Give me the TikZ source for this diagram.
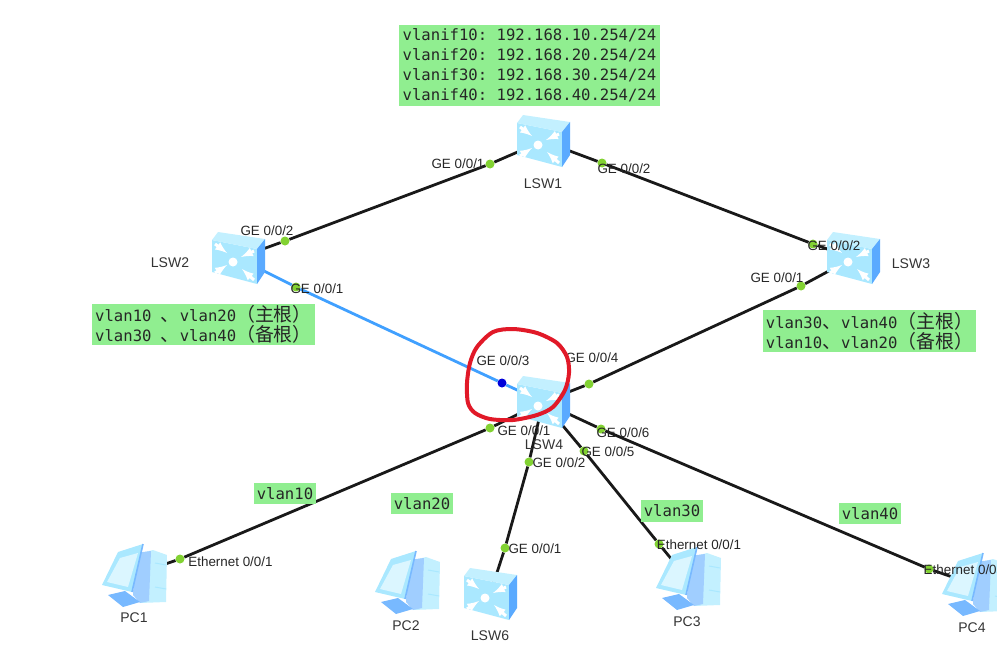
\documentclass[tikz,border=0pt]{standalone}
\usepackage{fontspec}
\setmainfont{Liberation Sans}
\setmonofont{DejaVu Sans Mono}
\newfontfamily\cjk{Noto Sans CJK SC}
\usetikzlibrary{backgrounds}
\definecolor{notegreen}{RGB}{144,238,144}
\definecolor{portgreen}{RGB}{130,210,50}
\definecolor{linkblue}{RGB}{64,160,255}
\definecolor{markred}{RGB}{225,25,40}
\definecolor{iconfront}{RGB}{170,232,255}
\definecolor{icontop}{RGB}{195,240,255}
\definecolor{iconside}{RGB}{90,170,255}
\definecolor{pcdark}{RGB}{120,185,255}
\newcommand{\zh}[1]{{\cjk\fontsize{18.9}{20}\selectfont #1}}
\tikzset{
  devnode/.style={coordinate},
  port/.style={circle,fill=portgreen,inner sep=0pt,minimum size=9pt},
  portb/.style={circle,fill=blue!85!black,inner sep=0pt,minimum size=9pt},
  plabel/.style={inner sep=0pt,text=black!85,font=\fontsize{13.4}{15}\selectfont},
  dlabel/.style={inner sep=0pt,text=black!80,font=\fontsize{14}{16}\selectfont},
  note/.style={fill=notegreen,inner sep=0pt,align=left,text=black!85,font=\ttfamily\fontsize{15.6}{20}\selectfont},
  link/.style={black!90,line width=2.8pt},
  pics/swicon/.style={code={
    \fill[iconfront] (-26,-18)--(19,-9)--(19,26)--(-26,14)--cycle;
    \fill[icontop] (-26,-18)--(-20,-26)--(27,-19)--(19,-9)--cycle;
    \fill[iconside] (19,-9)--(27,-19)--(27,14)--(19,26)--cycle;
    \draw[white,line width=3pt,->] (-23,-14)--(-11,-5);
    \draw[white,line width=3pt,->] (16,-7)--(3,-1);
    \draw[white,line width=3pt,->] (-23,15)--(-11,7);
    \draw[white,line width=3pt,->] (16,22)--(4,11);
    \fill[white] (-5,4) circle (4.5);
  }},
  pics/pcicon/.style={code={
    \fill[icontop] (12,-23)--(20,-25)--(34,-20)--(33,27)--(7,28)--cycle;
    \fill[pcdark!70!white] (2,-22)--(18,-24)--(16,26)--(7,28)--(0,20)--cycle;
    \fill[pcdark] (-25,20)--(-8,16)--(7,27)--(-10,32)--cycle;
    \fill[iconfront] (-31,10)--(-15,-23)--(10,-31)--(-1,17)--cycle;
    \fill[icontop!60!white] (-26,7)--(-13,-17)--(5,-22)--(-5,12)--cycle;
    \draw[pcdark,line width=1.6pt] (10,-31)--(-1,17);
    \draw[iconfront,line width=1pt] (22,-12)--(33,-10) (22,12)--(33,14);
  }}
}
\begin{document}
\begin{tikzpicture}[>=latex,x=1pt,y=-1pt]
\clip (0,0) rectangle (997,661);
\node[devnode] (lsw1) at (543,141) {};
\node[devnode] (lsw2) at (238,258) {};
\node[devnode] (lsw3) at (853,258) {};
\node[devnode] (lsw4) at (543,402) {};
\node[devnode] (lsw6) at (490,594) {};
\node[devnode] (pc1) at (133,575) {};
\node[devnode] (pc2) at (406,582) {};
\node[devnode] (pc3) at (687,578) {};
\node[devnode] (pc4) at (973,584) {};
\pic at (lsw1) {swicon};
\pic at (lsw2) {swicon};
\pic at (lsw3) {swicon};
\pic at (lsw4) {swicon};
\pic at (lsw6) {swicon};
\pic at (pc1) {pcicon};
\pic at (pc2) {pcicon};
\pic at (pc3) {pcicon};
\pic at (pc4) {pcicon};
\node[port] (lsw1p1) at (490,164) {};
\node[port] (lsw1p2) at (602,163) {};
\node[port] (lsw2p2) at (285,241) {};
\node[port] (lsw2p1) at (296,287) {};
\node[port] (lsw3p2) at (813,244) {};
\node[port] (lsw3p1) at (801,286) {};
\node[portb] (lsw4p3) at (502,383) {};
\node[port] (lsw4p4) at (589,384) {};
\node[port] (lsw4p1) at (490,428) {};
\node[port] (lsw4p2) at (529,462) {};
\node[port] (lsw4p5) at (584,451) {};
\node[port] (lsw4p6) at (601,429) {};
\node[port] (lsw6p1) at (505,548) {};
\node[port] (pc1p1) at (180,559) {};
\node[port] (pc3p1) at (659,544) {};
\node[port] (pc4p1) at (929,569) {};
\begin{pgfonlayer}{background}
\draw[link] (lsw1)--(lsw1p1)--(lsw2p2)--(lsw2);
\draw[link] (lsw1)--(lsw1p2)--(lsw3p2)--(lsw3);
\draw[link] (lsw3)--(lsw3p1)--(lsw4p4)--(lsw4);
\draw[link] (lsw4)--(lsw4p1)--(pc1p1)--(pc1);
\draw[link] (lsw4)--(lsw4p2)--(lsw6p1)--(lsw6);
\draw[link] (lsw4)--(lsw4p5)--(pc3p1)--(pc3);
\draw[link] (lsw4)--(lsw4p6)--(pc4p1)--(pc4);
\draw[link,linkblue] (lsw2)--(lsw2p1)--(lsw4p3)--(lsw4);
\end{pgfonlayer}
\node[note,minimum width=261pt,minimum height=81pt] (ifnote) at (529.5,65.5) {vlanif10: 192.168.10.254/24\\vlanif20: 192.168.20.254/24\\vlanif30: 192.168.30.254/24\\vlanif40: 192.168.40.254/24};
\node[note,minimum width=223pt,minimum height=41pt] (lsw2note) at (203.5,324.5) {vlan10 \zh{、}vlan20\zh{（主根）}\\vlan30 \zh{、}vlan40\zh{（备根）}};
\node[note,minimum width=213pt,minimum height=42pt] (lsw3note) at (869.5,331) {vlan30\zh{、}vlan40\zh{（主根）}\\vlan10\zh{、}vlan20\zh{（备根）}};
\node[note,minimum width=62pt,minimum height=21pt] (v10) at (285,493.5) {vlan10};
\node[note,minimum width=62pt,minimum height=21pt] (v20) at (422,503.5) {vlan20};
\node[note,minimum width=62pt,minimum height=22pt] (v30) at (672,511) {vlan30};
\node[note,minimum width=62pt,minimum height=21pt] (v40) at (870,513.5) {vlan40};
\node[plabel] (l1) at (458,164) {GE 0/0/1};
\node[plabel] (l2) at (624,169) {GE 0/0/2};
\node[plabel] (l3) at (267,231) {GE 0/0/2};
\node[plabel] (l4) at (317,289) {GE 0/0/1};
\node[plabel] (l5) at (834,246) {GE 0/0/2};
\node[plabel] (l6) at (777,278) {GE 0/0/1};
\node[plabel] (l7) at (503,361) {GE 0/0/3};
\node[plabel] (l8) at (592,358) {GE 0/0/4};
\node[plabel] (l9) at (524,431) {GE 0/0/1};
\node[plabel] (l10) at (559,463) {GE 0/0/2};
\node[plabel] (l11) at (608,452) {GE 0/0/5};
\node[plabel] (l12) at (623,433) {GE 0/0/6};
\node[plabel] (l13) at (535,549) {GE 0/0/1};
\node[plabel] (l14) at (230.5,562) {Ethernet 0/0/1};
\node[plabel] (l15) at (699,545) {Ethernet 0/0/1};
\node[plabel,anchor=west] (l16) at (923.5,570) {Ethernet 0/0};
\node[dlabel] (n1) at (543,184) {LSW1};
\node[dlabel] (n2) at (170,263) {LSW2};
\node[dlabel] (n3) at (911,264) {LSW3};
\node[dlabel] (n4) at (544,445) {LSW4};
\node[dlabel] (n6) at (490,636) {LSW6};
\node[dlabel] (n7) at (134,618) {PC1};
\node[dlabel] (n8) at (406,626) {PC2};
\node[dlabel] (n9) at (687,622) {PC3};
\node[dlabel] (n10) at (972,628) {PC4};
\draw[markred,line width=4pt] plot[smooth cycle] coordinates {(493,332)(513,329)(537,333)(557,343)(567,357)(569,373)(565,390)(553,407)(537,415)(513,420)(490,419)(475,413)(468,403)(467,383)(470,363)(477,347)};
\end{tikzpicture}
\end{document}
